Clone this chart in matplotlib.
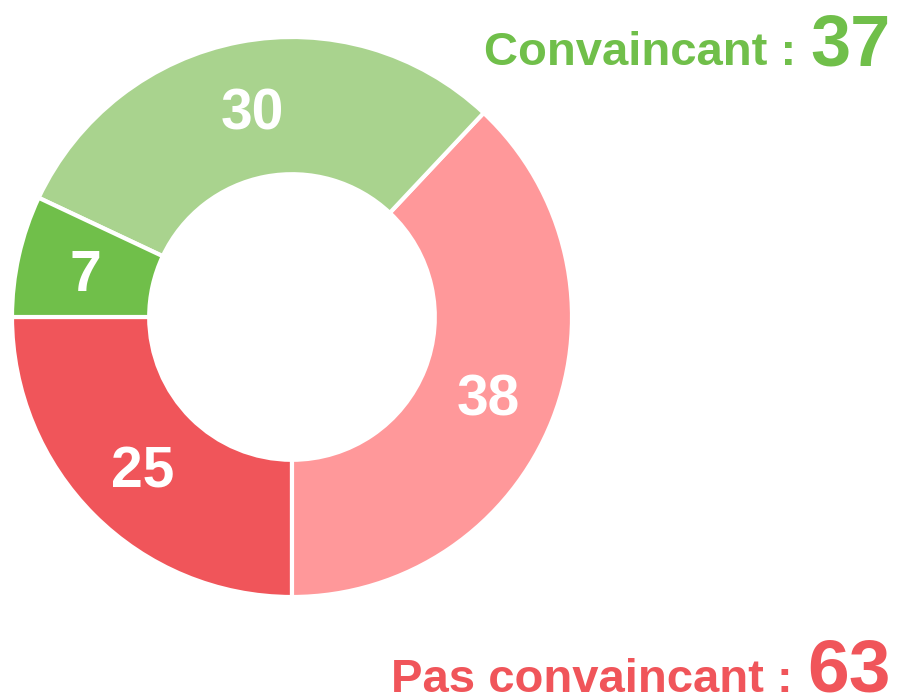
import matplotlib
matplotlib.use("Agg")
import matplotlib.pyplot as plt
import numpy as np

# slice values, counter-clockwise from 9 o'clock
values = [25, 38, 30, 7]
colors = ["#F0555A", "#FF989A", "#A9D38E", "#70BF4A"]

groups = ["Convaincant : ", "Pas convaincant : "]
group_totals = [37, 63]
group_colors = ["#70BF4A", "#F0555A"]

plt.rcParams["font.family"] = ["Liberation Sans", "DejaVu Sans"]
plt.rcParams["font.weight"] = "bold"

W, H = 897, 700
fig = plt.figure(figsize=(W / 100, H / 100), dpi=100)

cx, cy, r = 292, 317, 280
ax = fig.add_axes([(cx - r) / W, (H - cy - r) / H, 2 * r / W, 2 * r / H])
wedges, _ = ax.pie(values, colors=colors, startangle=180, counterclock=True,
                   radius=1, wedgeprops=dict(width=0.49, edgecolor="white", linewidth=3))
ax.set_xlim(-1, 1)
ax.set_ylim(-1, 1)
ax.set_aspect("equal")
ax.axis("off")

# value labels in the middle of the ring
for w, v in zip(wedges, values):
    ang = np.deg2rad((w.theta1 + w.theta2) / 2)
    rr = 0.755
    ax.annotate(str(v), (rr * np.cos(ang), rr * np.sin(ang)),
                xytext=(0, -4), textcoords="offset points",
                ha="center", va="center", color="white", fontsize=41, fontweight="bold")

# group totals, right aligned on the right side
fig.canvas.draw()
renderer = fig.canvas.get_renderer()
baselines = [65, 692]
sizes = [52, 54]
for name, total, col, base, fs in zip(groups, group_totals, group_colors, baselines, sizes):
    t = fig.text(891 / W, 1 - base / H, str(total), ha="right", va="baseline",
                 color=col, fontsize=fs, fontweight="bold")
    bb = t.get_window_extent(renderer)
    fig.text((bb.x0 - 2) / W, 1 - base / H, name, ha="right", va="baseline",
             color=col, fontsize=34, fontweight="bold")

fig.savefig("out.png", dpi=100)
